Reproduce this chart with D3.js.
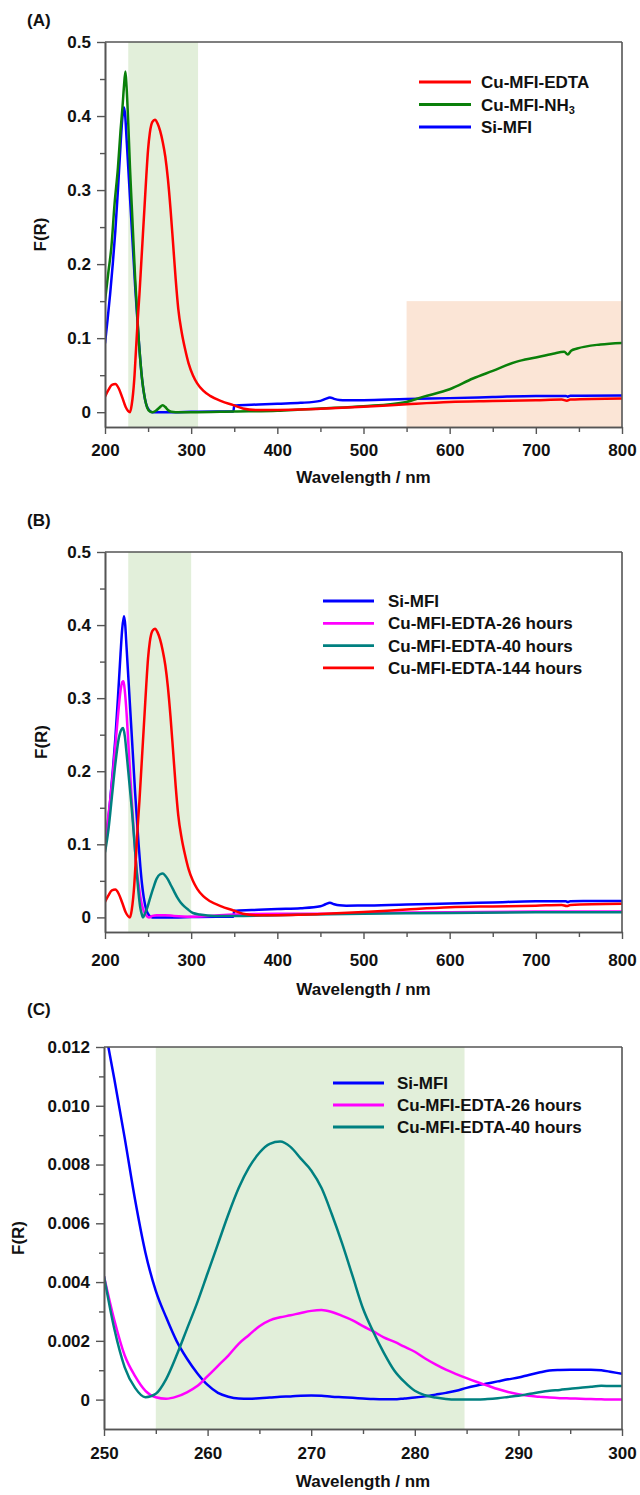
<!DOCTYPE html>
<html><head><meta charset="utf-8">
<script src="https://cdn.jsdelivr.net/npm/d3@7"></script>
<style>
body{margin:0;background:#fff;}
text{font-family:"Liberation Sans",Arial,sans-serif;font-weight:bold;fill:#111;}
</style>
</head><body><svg id="c" width="640" height="1495"></svg>
<script>
// ---------- Panel A / B shared spectra ----------
const wlSiMFI = [200,203,206,209,212,215,218,220,222,223.5,225,227,229,231,233,235,237,239,241,243,245,248,251,255,280,300,330,349,350,370,400,427,450,456,461,466,472,480,500,550,600,650,700,735,737,740,800];
const fSiMFI  = [0.093,0.125,0.16,0.2,0.245,0.3,0.36,0.395,0.412,0.4,0.37,0.33,0.29,0.25,0.21,0.17,0.135,0.1,0.07,0.045,0.027,0.01,0.003,0.0,0.0,0.0005,0.0008,0.001,0.009,0.01,0.0115,0.0126,0.0153,0.018,0.02,0.018,0.0165,0.016,0.0162,0.0178,0.019,0.0205,0.022,0.022,0.021,0.0222,0.0225];

const wlEDTA = [200,204,208,212,216,220,224,229,231,234,236,238,240,242,244,246,248,250,252,255,258,261,264,267,270,273,276,279,282,285,289,293,297,302,307,314,322,335,349,360,375,400,427,450,500,550,600,650,700,730,736,740,800];
const fEDTA  = [0.021,0.03,0.037,0.038,0.032,0.02,0.007,0.0,0.01,0.045,0.085,0.125,0.16,0.2,0.24,0.28,0.32,0.355,0.377,0.392,0.395,0.39,0.38,0.365,0.345,0.315,0.275,0.228,0.18,0.14,0.108,0.085,0.066,0.05,0.039,0.029,0.022,0.015,0.0095,0.005,0.003,0.003,0.0036,0.0045,0.0072,0.0108,0.0139,0.015,0.016,0.017,0.0155,0.017,0.0185];

const wlNH3 = [200,204,207.4,211,215,218,220.3,222,223.7,225,227,229,231,233,235,237,239,241,243,246,249,252,255,259,263,267,270,273,277,282,300,350,400,427,450,500,550,569,600,627,650,677,700,720,733,737,741,748,775,800];
const fNH3  = [0.15,0.19,0.223,0.28,0.33,0.38,0.412,0.44,0.46,0.44,0.39,0.33,0.28,0.23,0.18,0.14,0.1,0.07,0.045,0.02,0.006,0.001,0.0,0.002,0.006,0.0095,0.007,0.003,0.0005,0.0,0.0,0.001,0.002,0.0036,0.005,0.008,0.0139,0.0207,0.031,0.0455,0.0558,0.068,0.0739,0.079,0.0815,0.078,0.083,0.086,0.0915,0.0936];

const wl26h = [200,203,206,209,212,215,218,220,221.5,223,225,227,229,231,233,235,237,239,241,244,247,251,255,260,270,280,300,320,350,400,450,500,600,700,800];
const f26h  = [0.105,0.13,0.16,0.195,0.235,0.275,0.31,0.322,0.323,0.31,0.28,0.24,0.2,0.16,0.125,0.09,0.062,0.045,0.028,0.012,0.004,0.0,0.002,0.003,0.003,0.002,0.001,0.002,0.004,0.005,0.005,0.006,0.007,0.008,0.008];

const wl40h = [200,204,208,212,216,219,221,223,225,227,229,231,233,235,237,239,241,243,244,246,249,252,256,260,264,267,270,273,276,280,284,288,292,296,302,310,327,350,400,500,600,700,800];
const f40h  = [0.089,0.12,0.165,0.21,0.245,0.257,0.259,0.248,0.225,0.2,0.175,0.15,0.12,0.09,0.06,0.033,0.013,0.003,0.0,0.004,0.013,0.025,0.04,0.053,0.059,0.06,0.057,0.052,0.045,0.036,0.027,0.02,0.015,0.011,0.006,0.004,0.002,0.002,0.003,0.005,0.006,0.007,0.007];

// ---------- Panel C (250-300 nm zoom) ----------
const wlC = [250,251,252,253,254,255,256,257,258,259,260,261,262,263,264,265,266,267,268,269,270,271,272,273,274,275,276,277,278,279,280,281,282,283,284,285,286,287,288,289,290,291,292,293,294,295,296,297,298,299,300];
const fC_SiMFI = [0.0128,0.0109,0.0089,0.0068,0.005,0.0037,0.0028,0.002,0.0014,0.0009,0.0005,0.00023,0.0001,0.00004,0.00003,0.00005,0.00007,0.0001,0.00011,0.00013,0.00014,0.00013,0.0001,0.00008,0.00006,0.00004,0.00002,0.00001,0.00001,0.00004,0.00007,0.00011,0.00017,0.00023,0.0003,0.0004,0.00048,0.00055,0.00062,0.00069,0.00075,0.00084,0.00092,0.00099,0.00101,0.00102,0.00102,0.00102,0.001,0.00094,0.00088];
const fC_26h = [0.0042,0.0027,0.0015,0.0008,0.0003,0.00008,0.00003,0.0001,0.00025,0.00046,0.0008,0.00115,0.0015,0.0019,0.0022,0.0025,0.0027,0.0028,0.00287,0.00295,0.00302,0.00305,0.00298,0.00285,0.0027,0.0025,0.00232,0.00212,0.00197,0.0018,0.00163,0.0014,0.0012,0.00102,0.00087,0.00073,0.0006,0.00048,0.00036,0.00026,0.00018,0.00013,0.0001,0.00007,0.00005,0.00004,0.00003,0.00002,0.00001,0.0,0.0];
const fC_40h = [0.0042,0.0024,0.0011,0.0004,0.00008,0.0002,0.0007,0.0015,0.0024,0.0033,0.0043,0.0053,0.0063,0.0072,0.0079,0.0084,0.0087,0.00878,0.0086,0.0082,0.0078,0.0072,0.0063,0.0053,0.0042,0.0031,0.0023,0.0016,0.001,0.0006,0.0003,0.00015,0.00007,0.00002,0.0,0.0,0.0,0.00002,0.00005,0.00009,0.00013,0.00019,0.00025,0.0003,0.00033,0.00037,0.0004,0.00044,0.00047,0.00046,0.00046];

// ---------- tick labels ----------
const xTicksAB = [200,300,400,500,600,700,800];
const xMinorAB = [250,350,450,550,650,750];
const yTicksAB = [0,0.1,0.2,0.3,0.4,0.5];
const yMinorAB = [0.05,0.15,0.25,0.35,0.45];
const xTicksC = [250,260,270,280,290,300];
const xMinorC = [255,265,275,285,295];
const yTicksC = [0,0.002,0.004,0.006,0.008,0.010,0.012];
const yMinorC = [0.001,0.003,0.005,0.007,0.009,0.011];

const labelsA = ["Cu-MFI-EDTA","Cu-MFI-NH","Si-MFI"];
const labelsB = ["Si-MFI","Cu-MFI-EDTA-26 hours","Cu-MFI-EDTA-40 hours","Cu-MFI-EDTA-144 hours"];
const labelsC = ["Si-MFI","Cu-MFI-EDTA-26 hours","Cu-MFI-EDTA-40 hours"];

const RED="#ff0000", GREEN="#0a800a", BLUE="#0000ff", MAG="#ff00ff", TEAL="#008080";
const svg = d3.select("#c");
const AX="#555";

function panel(o){
  const x = d3.scaleLinear().domain(o.xd).range([o.L,o.R]);
  const y = d3.scaleLinear().domain(o.yd).range([o.B,o.T]);
  const g = svg.append("g");
  const cid = "clip"+o.id;
  g.append("clipPath").attr("id",cid).append("rect")
    .attr("x",o.L).attr("y",o.T).attr("width",o.R-o.L).attr("height",o.B-o.T);
  // bands
  o.bands.forEach(b=>{
    g.append("rect").attr("x",x(b.x0)).attr("width",x(b.x1)-x(b.x0))
      .attr("y",y(b.y1)).attr("height",y(b.y0)-y(b.y1)).attr("fill",b.c);
  });
  // series
  const line = d3.line().x(d=>x(d[0])).y(d=>y(d[1])).curve(d3.curveMonotoneX);
  const sg = g.append("g").attr("clip-path",`url(#${cid})`);
  o.series.forEach(s=>{
    sg.append("path").datum(d3.zip(s.wl,s.f)).attr("d",line)
      .attr("fill","none").attr("stroke",s.c).attr("stroke-width",2.5)
      .attr("stroke-linejoin","round");
  });
  // frame top/right
  g.append("line").attr("x1",o.L).attr("x2",o.R).attr("y1",o.T).attr("y2",o.T).attr("stroke",AX).attr("stroke-width",1.6);
  g.append("line").attr("x1",o.R).attr("x2",o.R).attr("y1",o.T).attr("y2",o.B).attr("stroke",AX).attr("stroke-width",1.6);
  // axes
  const styleAxis = sel=>{
    sel.selectAll("path.domain").attr("stroke",AX).attr("stroke-width",1.6);
    sel.selectAll(".tick line").attr("stroke",AX).attr("stroke-width",1.4);
    sel.selectAll("text").attr("font-size",17).attr("font-family",'"Liberation Sans",Arial,sans-serif').attr("font-weight","bold").attr("fill","#111");
  };
  g.append("g").attr("transform",`translate(0,${o.B})`)
    .call(d3.axisBottom(x).tickValues(o.xMinor).tickSize(5).tickSizeOuter(0).tickFormat(""))
    .call(styleAxis);
  g.append("g").attr("transform",`translate(0,${o.B})`)
    .call(d3.axisBottom(x).tickValues(o.xt).tickSize(7).tickSizeOuter(0).tickPadding(o.xpad).tickFormat(d3.format("d")))
    .call(styleAxis);
  g.append("g").attr("transform",`translate(${o.L},0)`)
    .call(d3.axisLeft(y).tickValues(o.yMinor).tickSize(5).tickSizeOuter(0).tickFormat(""))
    .call(styleAxis);
  g.append("g").attr("transform",`translate(${o.L},0)`)
    .call(d3.axisLeft(y).tickValues(o.yt).tickSize(8).tickSizeOuter(0).tickPadding(6).tickFormat(o.yfmt))
    .call(styleAxis);
  // titles
  g.append("text").attr("x",o.L+(o.R-o.L)/2+ (o.xtOff||0)).attr("y",o.xtY).attr("text-anchor","middle").attr("font-size",17).text("Wavelength / nm");
  g.append("text").attr("transform",`translate(${o.ytX},${(o.T+o.B)/2}) rotate(-90)`).attr("text-anchor","middle").attr("dy","0.35em").attr("font-size",17).text("F(R)");
  g.append("text").attr("x",27).attr("y",o.pY).attr("font-size",17).text(o.ptitle);
  // legend
  o.legend.forEach((it,i)=>{
    const ly = o.lg.y0 + i*o.lg.dy;
    g.append("line").attr("x1",o.lg.x1).attr("x2",o.lg.x2).attr("y1",ly).attr("y2",ly).attr("stroke",it.c).attr("stroke-width",2.8);
    const t = g.append("text").attr("x",o.lg.tx).attr("y",ly).attr("dy","0.36em").attr("font-size",17).text(it.t);
    if(it.sub){ t.append("tspan").attr("font-size",11).attr("dy","0.3em").text(it.sub); }
  });
}

const fmtAB = d => d===0 ? "0" : d3.format(".1f")(d);
const fmtC = d => d===0 ? "0" : d3.format(".3f")(d);

panel({id:"A", xd:[200,800], yd:[-0.02,0.5], L:105, R:622, T:42, B:427,
  xt:xTicksAB, xMinor:xMinorAB, yt:yTicksAB, yMinor:yMinorAB, yfmt:fmtAB, xpad:10,
  bands:[{x0:227,x1:308,y0:-0.02,y1:0.5,c:"#e2efda"},{x0:550,x1:800,y0:-0.02,y1:0.15,c:"#fbe5d6"}],
  series:[{wl:wlSiMFI,f:fSiMFI,c:BLUE},{wl:wlNH3,f:fNH3,c:GREEN},{wl:wlEDTA,f:fEDTA,c:RED}],
  xtY:483, ytX:40, pY:26, ptitle:"(A)",
  lg:{x1:419,x2:471,tx:481,y0:82,dy:22.5},
  legend:[{t:labelsA[0],c:RED},{t:labelsA[1],sub:"3",c:GREEN},{t:labelsA[2],c:BLUE}]
});

panel({id:"B", xd:[200,800], yd:[-0.02,0.5], L:105, R:622, T:552, B:932,
  xt:xTicksAB, xMinor:xMinorAB, yt:yTicksAB, yMinor:yMinorAB, yfmt:fmtAB, xpad:15,
  bands:[{x0:227,x1:300,y0:-0.02,y1:0.5,c:"#e2efda"}],
  series:[{wl:wlSiMFI,f:fSiMFI,c:BLUE},{wl:wl26h,f:f26h,c:MAG},{wl:wl40h,f:f40h,c:TEAL},{wl:wlEDTA,f:fEDTA,c:RED}],
  xtY:995, ytX:41, pY:526, ptitle:"(B)",
  lg:{x1:323,x2:374,tx:388,y0:601,dy:22.3},
  legend:[{t:labelsB[0],c:BLUE},{t:labelsB[1],c:MAG},{t:labelsB[2],c:TEAL},{t:labelsB[3],c:RED}]
});

panel({id:"C", xd:[250,300], yd:[-0.001,0.012], L:104, R:622, T:1047, B:1429,
  xt:xTicksC, xMinor:xMinorC, yt:yTicksC, yMinor:yMinorC, yfmt:fmtC, xpad:11,
  bands:[{x0:255,x1:284.8,y0:-0.001,y1:0.012,c:"#e2efda"}],
  series:[{wl:wlC,f:fC_SiMFI,c:BLUE},{wl:wlC,f:fC_26h,c:MAG},{wl:wlC,f:fC_40h,c:TEAL}],
  xtY:1487, ytX:18, pY:1015, ptitle:"(C)",
  lg:{x1:333,x2:384,tx:397,y0:1083,dy:22},
  legend:[{t:labelsC[0],c:BLUE},{t:labelsC[1],c:MAG},{t:labelsC[2],c:TEAL}]
});
</script></body></html>
